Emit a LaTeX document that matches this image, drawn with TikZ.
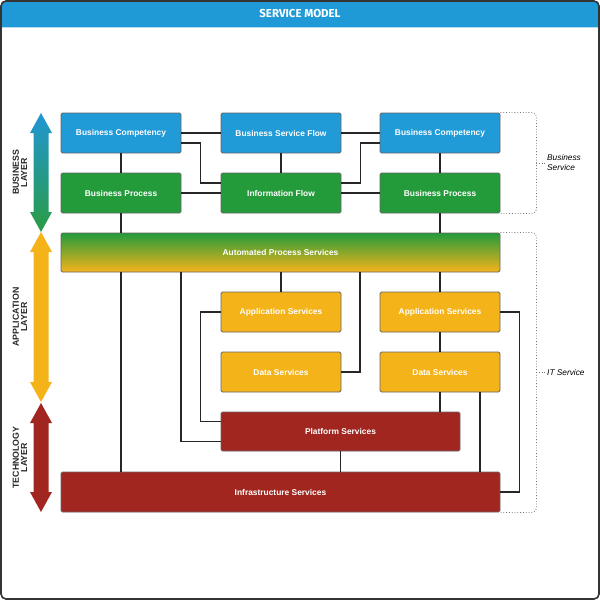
\documentclass[tikz,border=0pt]{standalone}
\usepackage{fontspec}
\setmainfont{Liberation Sans}
\newfontfamily\titlefont{Fira Sans}
\usetikzlibrary{positioning}
\usetikzlibrary{calc}

\definecolor{svtitle}{HTML}{1F9AD6}
\definecolor{svblue}{HTML}{219AD8}
\definecolor{svgreen}{HTML}{239B3A}
\definecolor{svyellow}{HTML}{F5B31A}
\definecolor{svred}{HTML}{A0261F}
\definecolor{arblue}{HTML}{2196D4}
\definecolor{argreen}{HTML}{2A9C44}

\tikzset{
  box/.style={draw=black!60, line width=0.9pt, rounded corners=1.5pt,
    minimum width=120pt, minimum height=40pt, inner sep=0pt, text=white,
    font=\fontsize{8.4}{10}\selectfont\bfseries},
  wire/.style={line width=1.1pt, draw=black!85},
  bracket/.style={draw=black!55, dotted, line width=0.8pt, rounded corners=4pt},
  layerlab/.style={rotate=90, align=center, text=black!85, inner sep=0pt,
    font=\fontsize{8.8}{8.2}\selectfont\bfseries},
  svclab/.style={anchor=west, align=left, inner sep=1pt,
    font=\fontsize{8.3}{10}\selectfont\itshape}
}

\begin{document}
\begin{tikzpicture}[x=1pt,y=-1pt]

\useasboundingbox (0,0) rectangle (600,600);

% frame and title bar
\fill[svtitle, rounded corners=5pt] (1,1) rectangle (599,27);
\fill[svtitle] (1,15) rectangle (599,27);
\draw[white!65!svtitle, line width=1pt] (1,27.5) -- (599,27.5);
\draw[line width=1.6pt, black!80, rounded corners=5pt] (1,599) -- (1,1) -- (599,1) -- (599,599) -- cycle;
\node[font=\titlefont\fontsize{11.5}{13}\selectfont\bfseries, text=white] (title) at (300,14) {SERVICE MODEL};

% layer arrows
\foreach \ya/\yb/\ca/\cb in {113/232/arblue/argreen, 232/402/svyellow/svyellow, 403/512/svred/svred}
  {\shade[top color=\ca, bottom color=\cb] (41,\ya) -- (52,\ya+20) -- (48.5,\ya+20) -- (48.5,\yb-20)
     -- (52,\yb-20) -- (41,\yb) -- (30,\yb-20) -- (33.5,\yb-20) -- (33.5,\ya+20) -- (30,\ya+20) -- cycle;}

\node[layerlab] (lbus) at (20,172.5) {BUSINESS\\LAYER};
\node[layerlab] (lapp) at (20,317) {APPLICATION\\LAYER};
\node[layerlab] (ltec) at (20,457.5) {TECHNOLOGY\\LAYER};

% business layer
\node[box, fill=svblue]  (bc1) at (121,133) {Business Competency};
\node[box, fill=svblue]  (bsf) at (281,133) {Business Service Flow};
\node[box, fill=svblue]  (bc2) at (440,133) {Business Competency};
\node[box, fill=svgreen] (bp1) at (121,193) {Business Process};
\node[box, fill=svgreen] (inf) at (281,193) {Information Flow};
\node[box, fill=svgreen] (bp2) at (440,193) {Business Process};

% application layer
\node[box, minimum width=439pt, minimum height=39pt, top color=svgreen, bottom color=svyellow]
  (aps) at (280.5,252.5) {Automated Process Services};
\node[box, fill=svyellow] (as1) at (281,312) {Application Services};
\node[box, fill=svyellow] (as2) at (440,312) {Application Services};
\node[box, fill=svyellow] (ds1) at (281,372) {Data Services};
\node[box, fill=svyellow] (ds2) at (440,372) {Data Services};

% technology layer
\node[box, fill=svred, minimum width=239pt, minimum height=39pt] (ps) at (340.5,431.5) {Platform Services};
\node[box, fill=svred, minimum width=439pt] (ins) at (280.5,492) {Infrastructure Services};

% connectors
\draw[wire] (bc1.south) -- (bp1.north);
\draw[wire] (bc2.south) -- (bp2.north);
\draw[wire] (bsf.south) -- (inf.north);
\draw[wire] (bc1.east) -- (bsf.west);
\draw[wire] (bsf.east) -- (bc2.west);
\draw[wire] (bp1.east) -- (inf.west);
\draw[wire] (inf.east) -- (bp2.west);
\draw[wire] ([yshift=-10pt]bc1.east) -- ++(19,0) |- ([yshift=10pt]inf.west);
\draw[wire] ([yshift=10pt]inf.east) -- ++(19,0) |- ([yshift=-10pt]bc2.west);
\draw[wire] (bp1.south) -- (bp1.south |- aps.north);
\draw[wire] (bp2.south) -- (bp2.south |- aps.north);

\draw[wire] (bp1.south |- aps.south) -- (bp1.south |- ins.north);
\draw[wire] ([yshift=-10pt]ps.west) -| ([xshift=-99.5pt]aps.south);
\draw[wire] (as1.north) -- (as1.north |- aps.south);
\draw[wire] (as1.west) -- ++(-20,0) |- ([yshift=10pt]ps.west);
\draw[wire] (ds1.east) -| ([xshift=79.5pt]aps.south);
\draw[wire] (as2.north) -- (as2.north |- aps.south);
\draw[wire] (as2.south) -- (ds2.north);
\draw[wire] (ds2.south) -- (ds2.south |- ps.north);
\draw[wire] ([xshift=40pt]ds2.south) -- ([xshift=40pt]ds2.south |- ins.north);
\draw[wire] (as2.east) -- ++(19,0) |- (ins.east);
\draw[wire] (ps.south) -- (ps.south |- ins.north);

% service brackets
\draw[bracket] (bc2.north east) -- ++(36,0) |- (bp2.south east);
\coordinate (bsmid) at (536,163);
\node[svclab] (bsvc) at (546,163) {Business\\Service};
\draw[bracket] (bsmid) -- (bsvc.west);

\draw[bracket] (aps.north east) -- ++(36,0) |- (ins.south east);
\coordinate (itmid) at (536,372.5);
\node[svclab] (itsvc) at (546,372.5) {IT Service};
\draw[bracket] (itmid) -- (itsvc.west);

\end{tikzpicture}
\end{document}
